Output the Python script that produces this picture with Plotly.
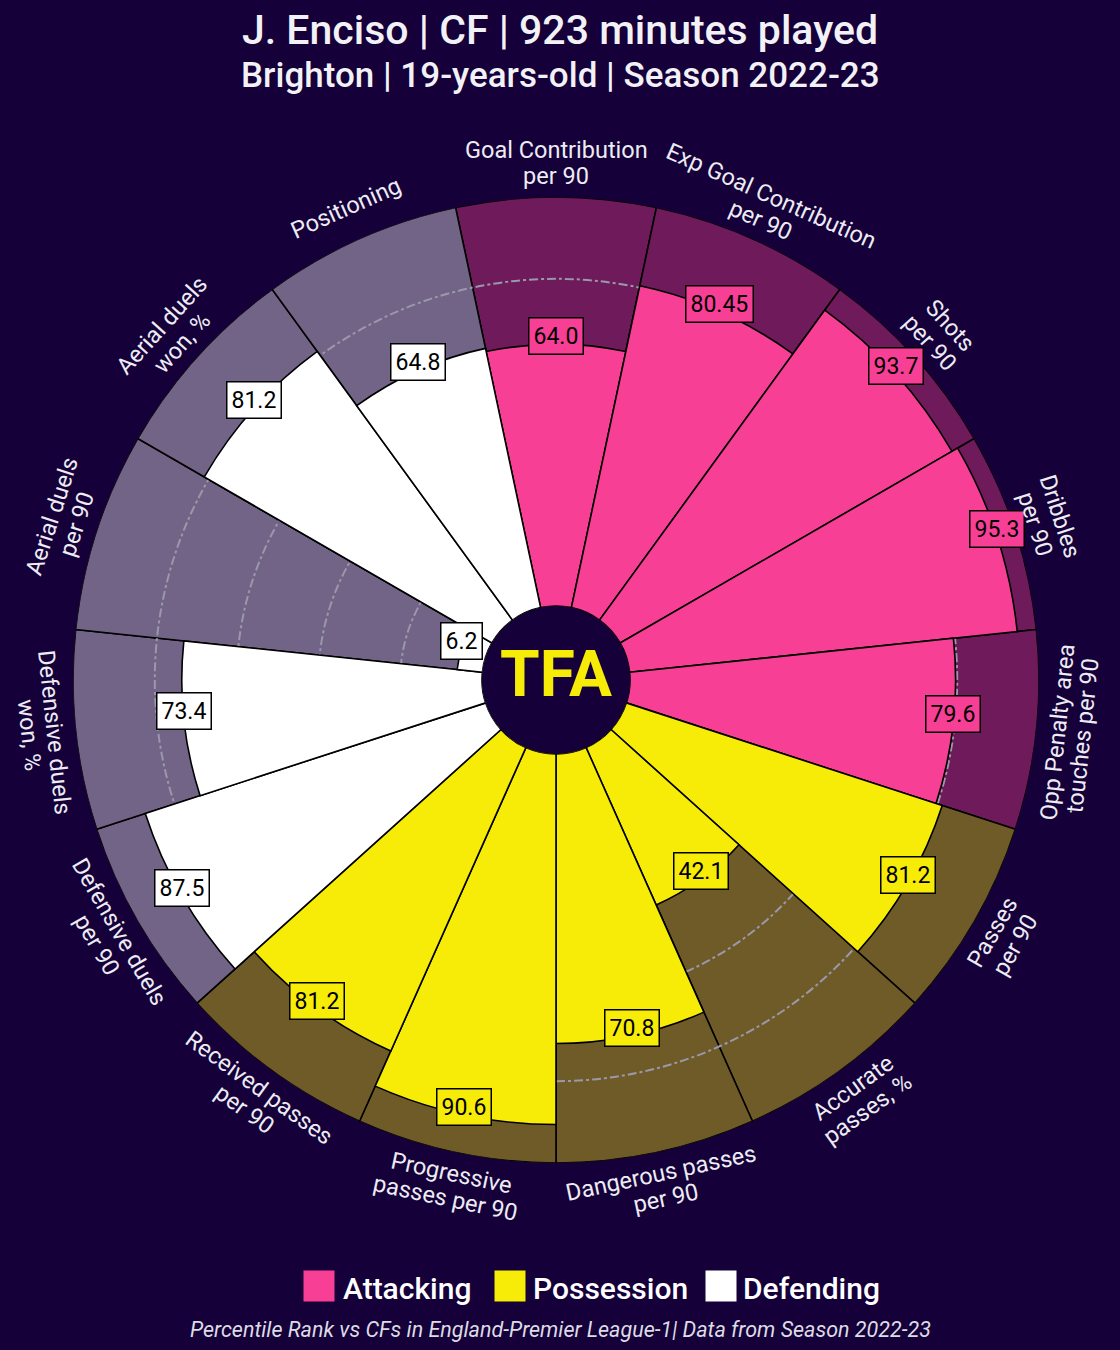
import math
import plotly.graph_objects as go

# ---------------- data ----------------
params = [
    "Goal Contribution<br>per 90",
    "Exp Goal Contribution<br>per 90",
    "Shots<br>per 90",
    "Dribbles<br>per 90",
    "Opp Penalty area<br>touches per 90",
    "Passes<br>per 90",
    "Accurate<br>passes, %",
    "Dangerous passes<br>per 90",
    "Progressive<br>passes per 90",
    "Received passes<br>per 90",
    "Defensive duels<br>per 90",
    "Defensive duels<br>won, %",
    "Aerial duels<br>per 90",
    "Aerial duels<br>won, %",
    "Positioning",
]
values = [64.0, 80.45, 93.7, 95.3, 79.6, 81.2, 42.1, 70.8, 90.6, 81.2, 87.5, 73.4, 6.2, 81.2, 64.8]
value_labels = ["64.0", "80.45", "93.7", "95.3", "79.6", "81.2", "42.1", "70.8", "90.6", "81.2",
                "87.5", "73.4", "6.2", "81.2", "64.8"]
groups = ["Attacking"] * 5 + ["Possession"] * 5 + ["Defending"] * 5
group_names = ["Attacking", "Possession", "Defending"]
grid_ticks = [20, 40, 60, 80]

title = "J. Enciso | CF | 923 minutes played"
subtitle = "Brighton | 19-years-old | Season 2022-23"
footer = "Percentile Rank vs CFs in England-Premier League-1| Data from Season 2022-23"

# ---------------- style ----------------
BG = "#15003A"
slice_colors = {"Attacking": "#F73F96", "Possession": "#F7EB08", "Defending": "#FFFFFF"}
bg_colors = {"Attacking": "#6E1A5B", "Possession": "#6F5B27", "Defending": "#726486"}
LABEL_COLOR = "#ECECF2"
FONT = "Roboto"

W, H = 1120, 1350
CX, CY, R = 556, 680, 483       # pixel centre / radius of the pizza
HOLE = 74 / R
dom_x = [(CX - R) / W, (CX + R) / W]
dom_y = [(H - CY - R) / H, (H - CY + R) / H]

n = len(params)
step = 360 / n
thetas = [i * step for i in range(n)]

fig = go.Figure()

# background slices (full length)
fig.add_trace(go.Barpolar(
    r=[100] * n, theta=thetas, width=[step] * n,
    marker=dict(color=[bg_colors[g] for g in groups], line=dict(color="#000000", width=1.6)),
    subplot="polar", showlegend=False, hoverinfo="skip",
))

# value slices
for g in group_names:
    idx = [i for i in range(n) if groups[i] == g]
    fig.add_trace(go.Barpolar(
        r=[values[i] for i in idx], theta=[thetas[i] for i in idx], width=[step] * len(idx),
        marker=dict(color=slice_colors[g], line=dict(color="#000000", width=1.6)),
        subplot="polar2", name=g, showlegend=False, hoverinfo="skip",
    ))

# centre logo (overlay cartesian frame: 1 unit = pizza radius, origin = pizza centre)
fig.add_trace(go.Scatter(
    x=[0], y=[0], mode="text", text=["<b>TFA</b>"],
    textfont=dict(family=FONT, size=64, color=slice_colors["Possession"]),
    textposition="middle center", showlegend=False, hoverinfo="skip",
))

ang = dict(rotation=90, direction="clockwise", showgrid=False, showline=False,
           showticklabels=False, ticks="")
fig.update_layout(
    width=W, height=H,
    paper_bgcolor=BG, plot_bgcolor="rgba(0,0,0,0)",
    margin=dict(l=0, r=0, t=0, b=0),
    showlegend=False,
    polar=dict(domain=dict(x=dom_x, y=dom_y), hole=HOLE, bgcolor="rgba(0,0,0,0)",
               radialaxis=dict(range=[0, 100], visible=False), angularaxis=ang),
    polar2=dict(domain=dict(x=dom_x, y=dom_y), hole=HOLE, bgcolor="rgba(0,0,0,0)",
                radialaxis=dict(range=[0, 100], showgrid=True, gridcolor="#9A98AA", gridwidth=1.6,
                                griddash="dashdot", tickvals=grid_ticks, showticklabels=False,
                                ticks="", showline=False),
                angularaxis=ang),
    xaxis=dict(domain=[0, 1], range=[(0 - CX) / R, (W - CX) / R], visible=False, fixedrange=True),
    yaxis=dict(domain=[0, 1], range=[(CY - H) / R, CY / R], visible=False, fixedrange=True),
)

annotations = []
# value labels (text baseline sits at the value radius -> box drawn slightly above)
LABEL_LIFT = 8 / R
for i in range(n):
    t = math.radians(thetas[i])
    rr = HOLE + (1 - HOLE) * values[i] / 100
    annotations.append(dict(
        x=rr * math.sin(t), y=rr * math.cos(t) + LABEL_LIFT, xref="x", yref="y", showarrow=False,
        xanchor="center", yanchor="middle",
        text=value_labels[i], font=dict(family=FONT, size=23, color="#000000"),
        bgcolor=slice_colors[groups[i]], bordercolor="#000000", borderwidth=1.5, borderpad=4,
    ))

# parameter labels (one annotation per line for tighter line spacing)
LABEL_R = 1.07
LINE_STEP = 26 / R
for i in range(n):
    th = thetas[i]
    t = math.radians(th)
    if 90 < th < 270:
        rot = th - 180
    elif th > 270:
        rot = th - 360
    else:
        rot = th
    rr_rot = math.radians(rot)
    down = (-math.sin(rr_rot), -math.cos(rr_rot))
    cx, cy = LABEL_R * math.sin(t), LABEL_R * math.cos(t)
    lines = params[i].split("<br>")
    m = len(lines)
    for k, line in enumerate(lines):
        off = (k - (m - 1) / 2) * LINE_STEP
        annotations.append(dict(
            x=cx + off * down[0], y=cy + off * down[1], xref="x", yref="y", showarrow=False,
            xanchor="center", yanchor="middle",
            text=line, textangle=rot, align="center",
            font=dict(family=FONT, size=23.5, color=LABEL_COLOR),
        ))

# titles
annotations.append(dict(x=0.5, y=1 - 30 / H, xref="paper", yref="paper", showarrow=False,
                        xanchor="center", yanchor="middle",
                        text=title, font=dict(family=FONT, size=41, color="#F2F2F6", weight=500)))
annotations.append(dict(x=0.5, y=1 - 76 / H, xref="paper", yref="paper", showarrow=False,
                        xanchor="center", yanchor="middle",
                        text=subtitle, font=dict(family=FONT, size=35, color="#F2F2F6", weight=500)))
# legend
leg_sq_x = [319, 510, 721]
leg_tx_x = [341, 531, 741]
LEG_Y = 1286
for g, sx, tx in zip(group_names, leg_sq_x, leg_tx_x):
    annotations.append(dict(x=sx / W, y=1 - LEG_Y / H, xref="paper", yref="paper", showarrow=False,
                            xanchor="center", yanchor="middle",
                            text=" ", width=30, height=30, bgcolor=slice_colors[g], borderpad=0))
    annotations.append(dict(x=tx / W, y=1 - (LEG_Y + 2) / H, xref="paper", yref="paper",
                            xanchor="left", yanchor="middle", showarrow=False, text=g,
                            font=dict(family=FONT, size=30, color="#FFFFFF", weight=500)))
# footer
annotations.append(dict(x=0.5, y=1 - 1329 / H, xref="paper", yref="paper", showarrow=False,
                        xanchor="center", yanchor="middle",
                        text=footer, font=dict(family=FONT, size=21.5, color="#DCDCE4", style="italic")))

fig.update_layout(annotations=annotations)
fig.write_html("out.html", config={"displayModeBar": False},
               post_script="document.body.style.margin='0';")
